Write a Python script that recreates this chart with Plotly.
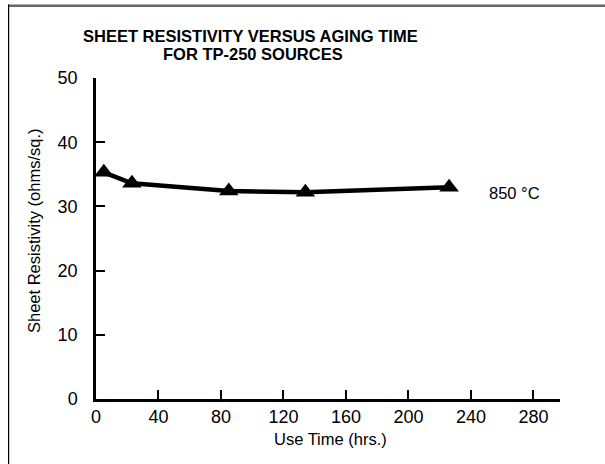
import plotly.graph_objects as go

# ---- data ----
use_time_hrs = [5, 23, 85, 134, 226]
sheet_resistivity = [35.3, 33.6, 32.4, 32.2, 33.0]
series_label = "850 °C"
x_ticks = [0, 40, 80, 120, 160, 200, 240, 280]
y_ticks = [0, 10, 20, 30, 40, 50]
title_lines = ["SHEET RESISTIVITY VERSUS AGING TIME", "FOR TP-250 SOURCES"]
x_title = "Use Time (hrs.)"
y_title = "Sheet Resistivity (ohms/sq.)"

W, H = 605, 464
L, R, T, B = 96, 45, 78, 65
FONT = "Liberation Sans, Arial, sans-serif"


def px_x(px):
    return (px - L) / (W - L - R)


def px_y(py):
    return (H - B - py) / (H - T - B)


fig = go.Figure()
fig.add_trace(go.Scatter(
    x=use_time_hrs, y=sheet_resistivity, mode="lines+markers",
    line=dict(color="black", width=4.5),
    marker=dict(symbol="triangle-up", size=17, color="black"),
    showlegend=False, cliponaxis=False,
))

annotations = [
    dict(text="<b>%s</b>" % title_lines[0], xref="paper", yref="paper",
         x=px_x(250), y=px_y(36), xanchor="center", yanchor="middle",
         showarrow=False, font=dict(family=FONT, size=16.5, color="black")),
    dict(text="<b>%s</b>" % title_lines[1], xref="paper", yref="paper",
         x=px_x(253), y=px_y(54), xanchor="center", yanchor="middle",
         showarrow=False, font=dict(family=FONT, size=16.5, color="black")),
    dict(text=series_label, xref="paper", yref="paper",
         x=px_x(514), y=px_y(193), xanchor="center", yanchor="middle",
         showarrow=False, font=dict(family=FONT, size=16.5, color="black")),
    dict(text=y_title, xref="paper", yref="paper", textangle=-90,
         x=px_x(34), y=px_y(231), xanchor="center", yanchor="middle",
         showarrow=False, font=dict(family=FONT, size=16.5, color="black")),
    dict(text=x_title, xref="paper", yref="paper",
         x=px_x(330), y=px_y(439), xanchor="center", yanchor="middle",
         showarrow=False, font=dict(family=FONT, size=16.5, color="black")),
]

shapes = [
    dict(type="rect", xref="paper", yref="paper", layer="above",
         x0=px_x(8), x1=px_x(605), y0=px_y(7), y1=px_y(4.5),
         fillcolor="#666666", line=dict(width=0)),
    dict(type="rect", xref="paper", yref="paper", layer="above",
         x0=px_x(8), x1=px_x(9.2), y0=px_y(464), y1=px_y(4.5),
         fillcolor="black", line=dict(width=0)),
]

fig.update_layout(
    width=W, height=H,
    margin=dict(l=L, r=R, t=T, b=B),
    paper_bgcolor="white", plot_bgcolor="white",
    font=dict(family=FONT, size=18, color="black"),
    annotations=annotations, shapes=shapes,
    xaxis=dict(range=[0, 297], tickvals=x_ticks, ticks="inside", ticklen=9,
               tickwidth=2, tickcolor="black", showline=True, linecolor="black",
               linewidth=2.5, showgrid=False, zeroline=False,
               tickfont=dict(family=FONT, size=18)),
    yaxis=dict(range=[0, 50], tickvals=y_ticks, ticks="inside", ticklen=9,
               tickwidth=2, tickcolor="black", showline=True, linecolor="black",
               linewidth=2.5, showgrid=False, zeroline=False,
               ticklabelstandoff=12, tickfont=dict(family=FONT, size=18)),
)

fig.write_html("out.html", config={"displayModeBar": False},
               post_script="document.body.style.margin='0';"
                           "document.body.style.overflow='hidden';")
